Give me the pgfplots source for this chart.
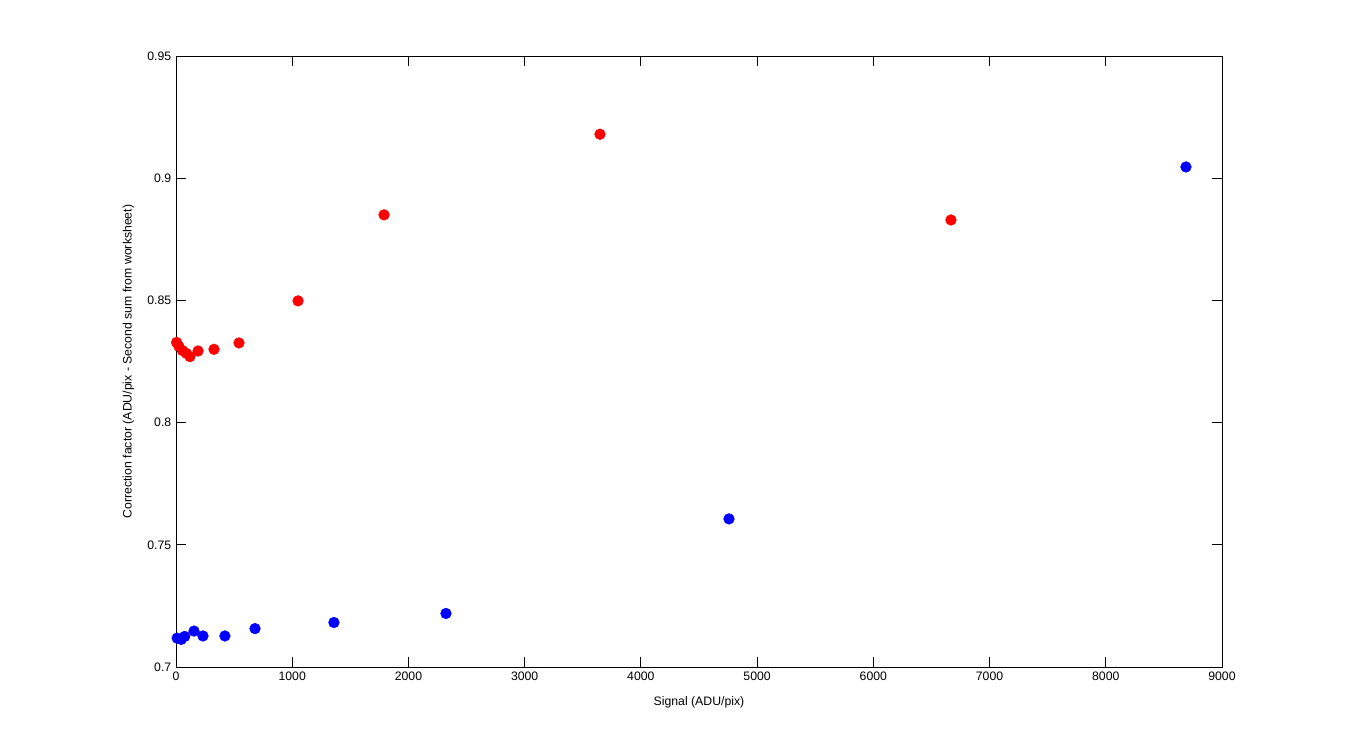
\documentclass[border=0pt]{standalone}
\usepackage{pgfplots}
\pgfplotsset{compat=1.18}
\usepackage{fontspec}
\setmainfont{Liberation Sans}
\begin{document}
\begin{tikzpicture}
\useasboundingbox (-132pt,-62.25pt) rectangle (880.5pt,500.25pt);
\begin{axis}[
  at={(0,0)}, anchor=south west,
  scale only axis, width=784.5pt, height=458.25pt,
  xmin=0, xmax=9000, ymin=0.7, ymax=0.95,
  xtick={0,1000,...,9000},
  ytick={0.7,0.75,0.8,0.85,0.9,0.95},
  yticklabels={0.7,0.75,0.8,0.85,0.9,0.95},
  xticklabels={0,1000,2000,3000,4000,5000,6000,7000,8000,9000},
  tick align=inside, major tick length=7.5pt,
  tick style={black, line width=0.6pt},
  axis line style={line width=0.6pt},
  font=\fontsize{9.2}{11}\selectfont,
  xlabel={Signal (ADU/pix)}, ylabel={Correction factor (ADU/pix - Second sum from worksheet)},
  xlabel style={yshift=-5pt}, ylabel style={yshift=3pt},
  scaled x ticks=false,
]
\addplot[only marks, mark=*, mark size=4pt, color=red, mark options={fill=red, draw=red}] coordinates {
(5,0.8328) (25,0.8312) (55,0.8295) (90,0.8283) (120,0.8270) (190,0.8293) (327,0.8300) (542,0.8326)
(1050,0.8498) (1790,0.8850) (3648,0.9180) (6668,0.8829)
};
\addplot[only marks, mark=*, mark size=4pt, color=blue, mark options={fill=blue, draw=blue}] coordinates {
(10,0.7118) (45,0.7113) (75,0.7125) (155,0.7147) (232,0.7127) (421,0.7127) (680,0.7157)
(1359,0.7182) (2323,0.7219) (4758,0.7606) (8690,0.9046)
};
\end{axis}
\end{tikzpicture}
\end{document}
